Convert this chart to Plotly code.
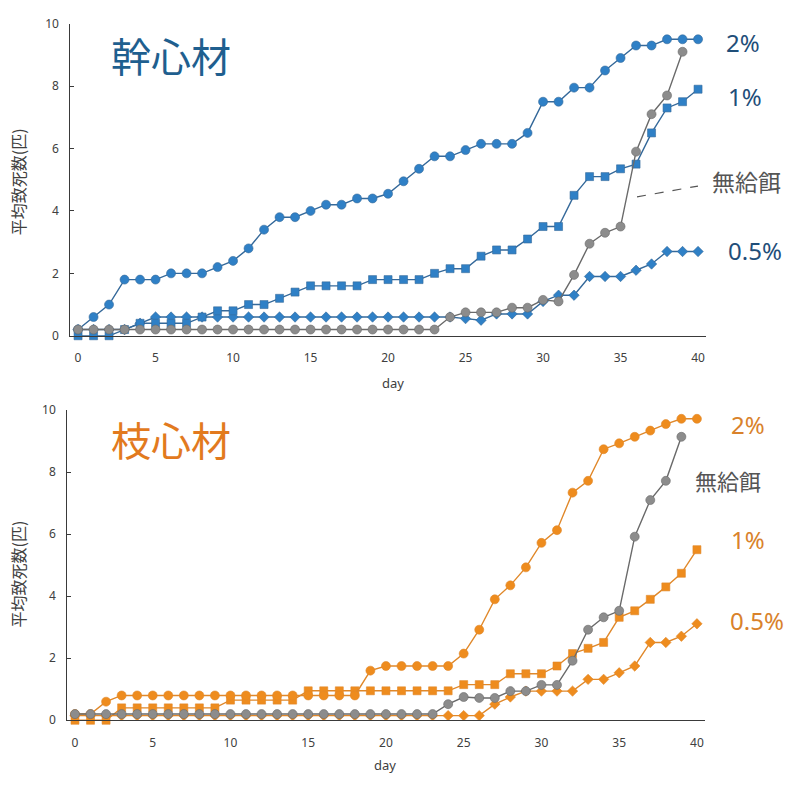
import plotly.graph_objects as go

W, H = 788, 786

days = list(range(41))
days_nofeed = list(range(40))

# 幹心材 (trunk heartwood)
trunk_2pct = [0.2, 0.6, 1.0, 1.8, 1.8, 1.8, 2.0, 2.0, 2.0, 2.2,
              2.4, 2.8, 3.4, 3.8, 3.8, 4.0, 4.2, 4.2, 4.4, 4.4,
              4.55, 4.95, 5.35, 5.75, 5.75, 5.95, 6.15, 6.15, 6.15, 6.5,
              7.5, 7.5, 7.95, 7.95, 8.5, 8.9, 9.3, 9.3, 9.5, 9.5, 9.5]
trunk_1pct = [0.0, 0.0, 0.0, 0.2, 0.4, 0.4, 0.4, 0.4, 0.6, 0.8,
              0.8, 1.0, 1.0, 1.2, 1.4, 1.6, 1.6, 1.6, 1.6, 1.8,
              1.8, 1.8, 1.8, 2.0, 2.15, 2.15, 2.55, 2.75, 2.75, 3.1,
              3.5, 3.5, 4.5, 5.1, 5.1, 5.35, 5.5, 6.5, 7.3, 7.5, 7.9]
trunk_05pct = [0.2, 0.2, 0.2, 0.2, 0.4, 0.6, 0.6, 0.6, 0.6, 0.6,
               0.6, 0.6, 0.6, 0.6, 0.6, 0.6, 0.6, 0.6, 0.6, 0.6,
               0.6, 0.6, 0.6, 0.6, 0.6, 0.55, 0.5, 0.7, 0.7, 0.7,
               1.1, 1.3, 1.3, 1.9, 1.9, 1.9, 2.1, 2.3, 2.7, 2.7, 2.7]
trunk_nofeed = [0.2, 0.2, 0.2, 0.2, 0.2, 0.2, 0.2, 0.2, 0.2, 0.2,
                0.2, 0.2, 0.2, 0.2, 0.2, 0.2, 0.2, 0.2, 0.2, 0.2,
                0.2, 0.2, 0.2, 0.2, 0.6, 0.75, 0.75, 0.75, 0.9, 0.9,
                1.15, 1.1, 1.95, 2.95, 3.3, 3.5, 5.9, 7.1, 7.7, 9.1]

# 枝心材 (branch heartwood)
branch_2pct = [0.2, 0.2, 0.6, 0.8, 0.8, 0.8, 0.8, 0.8, 0.8, 0.8,
               0.8, 0.8, 0.8, 0.8, 0.8, 0.8, 0.8, 0.8, 0.8, 1.6,
               1.75, 1.75, 1.75, 1.75, 1.75, 2.15, 2.92, 3.9, 4.35, 4.93,
               5.72, 6.13, 7.34, 7.72, 8.74, 8.93, 9.14, 9.34, 9.55, 9.72, 9.72]
branch_1pct = [0.0, 0.0, 0.0, 0.4, 0.4, 0.4, 0.4, 0.4, 0.4, 0.4,
               0.65, 0.65, 0.65, 0.65, 0.65, 0.95, 0.95, 0.95, 0.95, 0.95,
               0.95, 0.95, 0.95, 0.95, 0.95, 1.15, 1.15, 1.15, 1.5, 1.5,
               1.5, 1.75, 2.15, 2.32, 2.51, 3.32, 3.53, 3.9, 4.3, 4.74, 5.5]
branch_05pct = [0.15, 0.15, 0.15, 0.15, 0.15, 0.15, 0.15, 0.15, 0.15, 0.15,
                0.15, 0.15, 0.15, 0.15, 0.15, 0.15, 0.15, 0.15, 0.15, 0.15,
                0.15, 0.15, 0.15, 0.15, 0.15, 0.15, 0.15, 0.52, 0.75, 0.94,
                0.94, 0.94, 0.94, 1.32, 1.32, 1.53, 1.75, 2.51, 2.51, 2.71, 3.11]
branch_nofeed = [0.2, 0.2, 0.2, 0.2, 0.2, 0.2, 0.2, 0.2, 0.2, 0.2,
                 0.2, 0.2, 0.2, 0.2, 0.2, 0.2, 0.2, 0.2, 0.2, 0.2,
                 0.2, 0.2, 0.2, 0.2, 0.52, 0.75, 0.72, 0.72, 0.94, 0.94,
                 1.14, 1.14, 1.92, 2.92, 3.32, 3.53, 5.92, 7.1, 7.72, 9.14]

x_ticks = [0, 5, 10, 15, 20, 25, 30, 35, 40]
y_ticks = [0, 2, 4, 6, 8, 10]

BLUE, BLUE_LINE = "#2F80C6", "#35699A"
ORANGE, ORANGE_LINE = "#EE8C1E", "#E0882A"
GRAY, GRAY_LINE = "#8C8C8C", "#6A6A6A"

LATIN = "Noto Sans, Liberation Sans, sans-serif"
CJK = "Noto Sans CJK JP, Noto Sans, sans-serif"


def px(xp):
    return xp / W


def py(yp):
    return 1 - yp / H


fig = go.Figure()


def add_series(x, y, symbol, color, line_color, size, xa, ya):
    fig.add_trace(go.Scatter(
        x=x, y=y, mode="lines+markers", xaxis=xa, yaxis=ya,
        line=dict(color=line_color, width=1.4),
        marker=dict(symbol=symbol, size=size, color=color,
                    line=dict(color=line_color, width=0.6)),
        cliponaxis=False, showlegend=False, hoverinfo="skip",
    ))


# top panel
add_series(days, trunk_05pct, "diamond", BLUE, BLUE_LINE, 8, "x", "y")
add_series(days, trunk_1pct, "square", BLUE, BLUE_LINE, 8, "x", "y")
add_series(days, trunk_2pct, "circle", BLUE, BLUE_LINE, 9, "x", "y")
add_series(days_nofeed, trunk_nofeed, "circle", GRAY, GRAY_LINE, 9, "x", "y")

# bottom panel
add_series(days, branch_05pct, "diamond", ORANGE, ORANGE_LINE, 8, "x2", "y2")
add_series(days, branch_1pct, "square", ORANGE, ORANGE_LINE, 8, "x2", "y2")
add_series(days, branch_2pct, "circle", ORANGE, ORANGE_LINE, 9, "x2", "y2")
add_series(days_nofeed, branch_nofeed, "circle", GRAY, GRAY_LINE, 9, "x2", "y2")

xcommon = dict(range=[-0.5, 40.5], tickvals=x_ticks, showline=True,
               linecolor="#3a3a3a", linewidth=1, ticks="", showgrid=False,
               zeroline=False, ticklabelstandoff=11,
               tickfont=dict(family=LATIN, size=12, color="#404040"),
               fixedrange=True)
ycommon = dict(range=[0, 10], tickvals=y_ticks, showline=True,
               linecolor="#3a3a3a", linewidth=1, ticks="inside", ticklen=4,
               tickcolor="#3a3a3a", showgrid=False, zeroline=False,
               ticklabelstandoff=8,
               tickfont=dict(family=LATIN, size=12, color="#404040"),
               fixedrange=True)

fig.update_layout(
    width=W, height=H,
    margin=dict(l=0, r=0, t=0, b=0),
    paper_bgcolor="white", plot_bgcolor="white",
    xaxis=dict(domain=[px(70.3), px(705.8)], anchor="y", **xcommon),
    yaxis=dict(domain=[py(334), py(15)], anchor="x", **ycommon),
    xaxis2=dict(domain=[px(67.2), px(704.7)], anchor="y2", **xcommon),
    yaxis2=dict(domain=[py(727), py(410)], anchor="x2", **ycommon),
)

ann = []


def label(text, x, y, size, color, family=LATIN, angle=0):
    ann.append(dict(text=text, x=px(x), y=py(y), xref="paper", yref="paper",
                    showarrow=False, xanchor="center", yanchor="middle",
                    textangle=angle,
                    font=dict(family=family, size=size, color=color)))


# panel titles
label("幹心材", 171, 47, 40, "#1F5F8F", CJK)
label("枝心材", 171, 440, 40, "#E27A1E", CJK)

# axis titles
label("平均致死数(匹)", 18, 177, 16, "#404040", CJK, -90)
label("平均致死数(匹)", 18, 578, 16, "#404040", CJK, -90)
label("day", 393, 382, 13, "#404040")
label("day", 385, 773, 13, "#404040")

# series labels, top
label("2%", 743, 34, 24, "#1F4E79")
label("1%", 745, 89, 24, "#1F4E79")
label("無給餌", 746, 176, 23, "#555555", CJK)
label("0.5%", 755, 247, 24, "#1F4E79")

# series labels, bottom
label("2%", 748, 425, 24, "#D9822B")
label("無給餌", 728, 481, 22, "#555555", CJK)
label("1%", 748, 542, 24, "#D9822B")
label("0.5%", 757, 625, 24, "#D9822B")

fig.update_layout(annotations=ann)

# dashed leader from the no-feed label to its curve
fig.add_shape(type="line", xref="paper", yref="paper",
              x0=px(637), y0=py(192), x1=px(698), y1=py(181),
              line=dict(color="#555555", width=1.2, dash="dash"))

fig.write_html("out.html")
